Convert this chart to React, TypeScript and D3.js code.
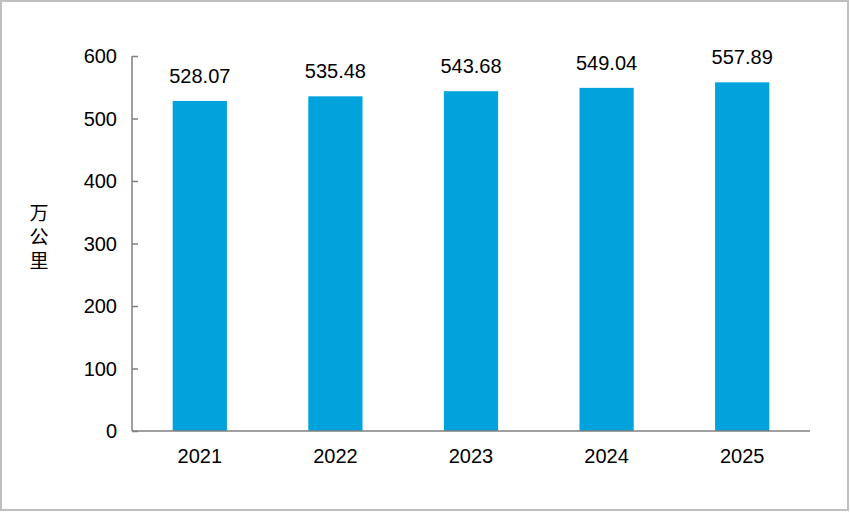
import { useEffect, useRef } from 'react'
import * as d3 from 'd3'

const years = ['2021', '2022', '2023', '2024', '2025']
const mileage = [528.07, 535.48, 543.68, 549.04, 557.89]
const yTicks = [0, 100, 200, 300, 400, 500, 600]
const unitLabel = '万公里'

export default function App() {
  const svgRef = useRef<SVGSVGElement | null>(null)

  useEffect(() => {
    document.body.style.margin = '0'
    if (!svgRef.current) return

    const svg = d3.select(svgRef.current)
    svg.selectAll('*').remove()
    const width = 850
    const height = 512
    const font = '"Liberation Sans", Arial, sans-serif'

    svg.attr('width', width).attr('height', height)

    // outer frame
    svg.append('rect')
      .attr('x', 1).attr('y', 1)
      .attr('width', width - 3).attr('height', height - 3)
      .attr('fill', '#fff')
      .attr('stroke', '#c0c0c0')
      .attr('stroke-width', 2)

    const left = 132
    const right = 810
    const top = 56
    const bottom = 431

    const x = d3.scaleBand<string>().domain(years).range([left, right]).paddingInner(0.6).paddingOuter(0.3)
    const y = d3.scaleLinear().domain([0, 600]).range([bottom, top])

    const data = years.map((yr, i) => ({ yr, v: mileage[i] }))

    svg.append('g').selectAll('rect')
      .data(data)
      .enter().append('rect')
      .attr('x', d => x(d.yr)!)
      .attr('y', d => y(d.v))
      .attr('width', x.bandwidth())
      .attr('height', d => bottom - y(d.v))
      .attr('fill', '#00a3db')

    svg.append('g').selectAll('text')
      .data(data)
      .enter().append('text')
      .attr('x', d => x(d.yr)! + x.bandwidth() / 2)
      .attr('y', d => y(d.v) - 18)
      .attr('text-anchor', 'middle')
      .style('font-family', font)
      .style('font-size', '20px')
      .style('fill', '#000')
      .text(d => d.v.toFixed(2))

    // y axis
    const yAxis = d3.axisRight(y).tickValues(yTicks).tickSize(6).tickFormat(() => '')
    const gy = svg.append('g').attr('transform', `translate(${left},0)`).call(yAxis)
    gy.select('.domain').attr('stroke', '#808080').attr('stroke-width', 1.5).attr('d', `M0,${top}V${bottom}`)
    gy.selectAll('.tick line').attr('stroke', '#808080').attr('stroke-width', 1.5)

    svg.append('g').selectAll('text')
      .data(yTicks)
      .enter().append('text')
      .attr('x', 117)
      .attr('y', d => y(d))
      .attr('dy', '0.36em')
      .attr('text-anchor', 'end')
      .style('font-family', font)
      .style('font-size', '20px')
      .text(d => d)

    // x axis
    const xAxis = d3.axisBottom(x).tickSize(0).tickFormat(() => '')
    const gx = svg.append('g').attr('transform', `translate(0,${bottom})`).call(xAxis)
    gx.select('.domain').attr('stroke', '#808080').attr('stroke-width', 1.5).attr('d', `M${left},0H${right}`)

    svg.append('g').selectAll('text')
      .data(years)
      .enter().append('text')
      .attr('x', d => x(d)! + x.bandwidth() / 2)
      .attr('y', 463)
      .attr('text-anchor', 'middle')
      .style('font-family', font)
      .style('font-size', '20px')
      .text(d => d)

    // unit label, written vertically
    svg.append('text')
      .attr('x', 39)
      .attr('y', 203)
      .style('writing-mode', 'vertical-rl')
      .style('text-orientation', 'upright')
      .style('letter-spacing', '5px')
      .style('font-family', '"Noto Sans CJK SC", sans-serif')
      .style('font-size', '19px')
      .text(unitLabel)
  }, [])

  return <svg ref={svgRef}></svg>
}
